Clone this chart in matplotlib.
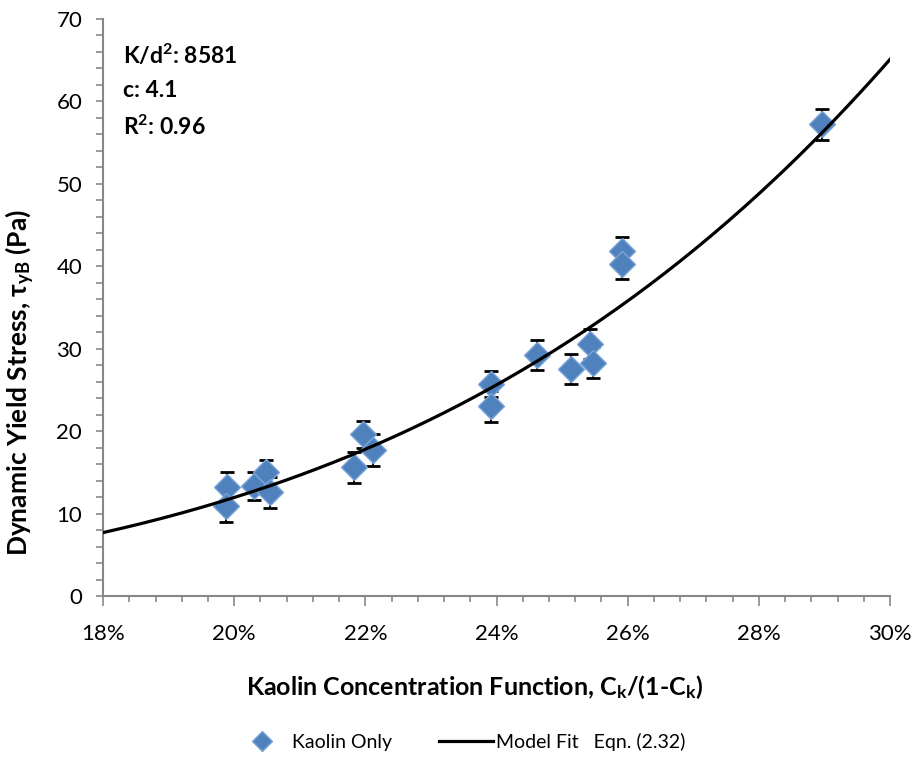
"""Dynamic yield stress of kaolin-only slurries against the kaolin concentration function."""
import numpy as np
import matplotlib.pyplot as plt
from matplotlib.ticker import MultipleLocator, PercentFormatter

plt.rcParams['font.family'] = ['Lato', 'DejaVu Sans']
plt.rcParams['mathtext.fontset'] = 'custom'
plt.rcParams['mathtext.rm'] = 'Lato'
plt.rcParams['mathtext.bf'] = 'Lato:bold'
plt.rcParams['mathtext.it'] = 'Lato:italic'

# measured points: C_k/(1-C_k) in %, yield stress in Pa, +/- error in Pa
conc_fn = [19.89, 19.87, 20.30, 20.48, 20.55, 21.83, 21.97, 22.12, 23.92,
           23.91, 24.61, 25.13, 25.42, 25.47, 25.92, 25.91, 28.97]
yield_stress = [13.2, 10.9, 13.4, 15.0, 12.6, 15.6, 19.6, 17.7, 25.7,
                23.0, 29.2, 27.5, 30.6, 28.3, 41.8, 40.3, 57.2]
stress_err = [1.8, 1.9, 1.7, 1.5, 1.9, 1.9, 1.6, 1.9, 1.6,
              1.9, 1.8, 1.8, 1.8, 1.9, 1.7, 1.9, 1.85]

# model fit  tau = A * phi^c
fit_a = 9982
fit_c = 4.18
fit_text = ['K/d$^\\mathbf{2}$: 8581', 'c: 4.1', 'R$^\\mathbf{2}$: 0.96']

phi = np.linspace(0.18, 0.30, 200)
tau = fit_a * phi ** fit_c

fig = plt.figure(figsize=(9.2, 7.62), dpi=100)
ax = fig.add_axes([0.112, 0.2178, 0.8554, 0.7573])

ax.errorbar(conc_fn, yield_stress, yerr=stress_err, fmt='none', ecolor='black',
            elinewidth=1.3, capsize=4.8, capthick=2.0, zorder=2)
ax.plot(conc_fn, yield_stress, linestyle='none', marker='D', markersize=13,
        markerfacecolor='#4F81BD', markeredgecolor='#7AA3D6', markeredgewidth=1.0,
        zorder=3, label='Kaolin Only')
ax.plot(phi * 100, tau, color='black', linewidth=2.3, zorder=4,
        label='Model Fit   Eqn. (2.32)')

ax.set_xlim(18, 30)
ax.set_ylim(0, 70)
ax.xaxis.set_major_locator(MultipleLocator(2))
ax.xaxis.set_minor_locator(MultipleLocator(0.4))
ax.xaxis.set_major_formatter(PercentFormatter(decimals=0))
ax.yaxis.set_major_locator(MultipleLocator(10))
ax.yaxis.set_minor_locator(MultipleLocator(2))

for side in ['top', 'right']:
    ax.spines[side].set_visible(False)
for side in ['left', 'bottom']:
    ax.spines[side].set_color('#878787')
    ax.spines[side].set_linewidth(1.5)
ax.tick_params(which='both', direction='out', color='#878787', width=1.2,
               labelsize=16, labelcolor='black')
ax.tick_params(axis='x', which='major', length=7, pad=13)
ax.tick_params(axis='x', which='minor', length=4)
ax.tick_params(axis='y', which='major', length=5, pad=10)
ax.tick_params(axis='y', which='minor', length=5)

ax.set_xlabel('Kaolin Concentration Function, C$_\\mathbf{k}$/(1-C$_\\mathbf{k}$)',
              fontsize=18, fontweight='bold')
ax.xaxis.set_label_coords(0.472, -0.133)
ax.set_ylabel('Dynamic Yield Stress, τ$_\\mathbf{yB}$ (Pa)',
              fontsize=19, fontweight='bold')
ax.yaxis.set_label_coords(-0.084, 0.37)

for i, line in enumerate(fit_text):
    ax.text(0.025, 0.9376 - i * 0.0624, line, transform=ax.transAxes,
            fontsize=16.5, fontweight='bold', va='center', ha='left')

fig.legend(loc='center', bbox_to_anchor=(0.5, 0.026), ncol=2, frameon=False,
           fontsize=14, markerscale=0.75, handlelength=2.8, columnspacing=2.4,
           handletextpad=0.15)

fig.savefig('out.png', dpi=100)
